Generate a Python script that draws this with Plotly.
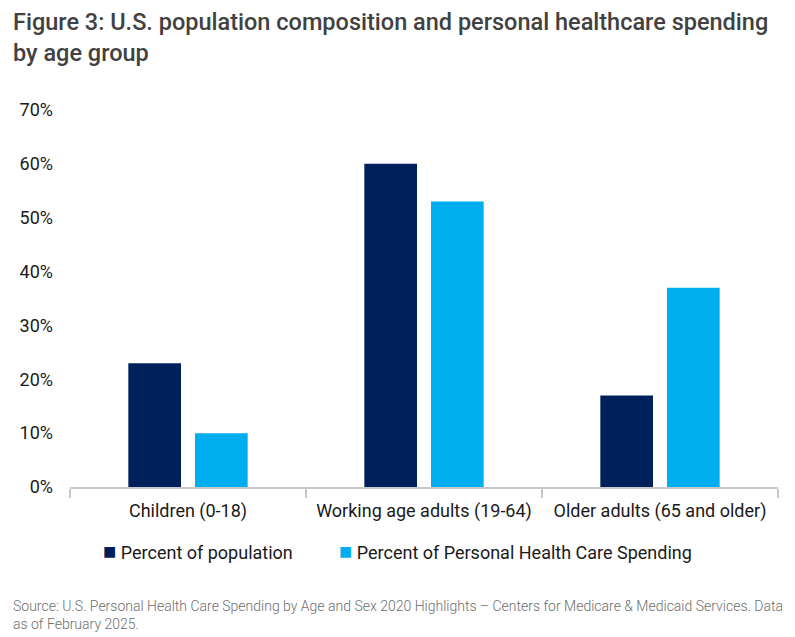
import plotly.graph_objects as go

categories = ["Children (0-18)", "Working age adults (19-64)", "Older adults (65 and older)"]
pct_population = [23, 60, 17]
pct_spending = [10, 53, 37]
series_names = ["Percent of population", "Percent of Personal Health Care Spending"]
y_ticks = [0, 10, 20, 30, 40, 50, 60, 70]

FONT = "Roboto"
NAVY = "#00205b"
SKY = "#00aeef"
TEXT = "#1a1a1a"

# the page body has an 8px margin, so the figure is sized to what is left of the window
W, H = 787, 629
PW, PH = 711, 377  # plot area in px

fig = go.Figure()
fig.add_trace(go.Bar(x=categories, y=pct_population, name=series_names[0],
                     marker=dict(color=NAVY, line=dict(width=0))))
fig.add_trace(go.Bar(x=categories, y=pct_spending, name=series_names[1],
                     marker=dict(color=SKY, line=dict(width=0))))

fig.update_layout(
    width=W, height=H,
    barmode="group", bargap=0.435, bargroupgap=0.21,
    plot_bgcolor="white", paper_bgcolor="white",
    font=dict(family=FONT, color=TEXT, size=18),
    margin=dict(l=59, r=17, t=102, b=150),
    xaxis=dict(showline=True, linecolor="#c8c8c8", linewidth=2, ticks="outside",
               tickson="boundaries", ticklen=9, tickwidth=1.5, tickcolor="#c8c8c8",
               tickfont=dict(size=18, color=TEXT), showgrid=False, ticklabelstandoff=6),
    yaxis=dict(range=[0, 70], tickvals=y_ticks, ticktext=[f"{v}%" for v in y_ticks],
               showgrid=False, zeroline=False, showline=False,
               tickfont=dict(size=18, color=TEXT), ticklabelstandoff=16),
    showlegend=False,
)

# custom legend: small square right next to the label
legend_x = [(90 - 59) / PW, (327 - 59) / PW]
for name, color, lx in zip(series_names, [NAVY, SKY], legend_x):
    fig.add_annotation(
        text=f"<span style='color:{color};font-size:22px'>■</span> {name}",
        xref="paper", yref="paper", x=lx, y=-0.172, xanchor="left", yanchor="middle",
        showarrow=False, font=dict(family=FONT, size=18, color=TEXT),
    )

fig.add_annotation(
    text="Figure 3: U.S. population composition and personal healthcare spending<br>by age group",
    xref="paper", yref="paper", x=-59 / PW, y=1 + 104 / PH, xanchor="left", yanchor="top",
    align="left", showarrow=False,
    font=dict(family=FONT, size=23.5, color="#414141", weight=500),
)
fig.add_annotation(
    text="Source: U.S. Personal Health Care Spending by Age and Sex 2020 Highlights – Centers for Medicare & Medicaid Services. Data<br>as of February 2025.",
    xref="paper", yref="paper", x=-59 / PW, y=-109 / PH, xanchor="left", yanchor="top",
    align="left", showarrow=False,
    font=dict(family=FONT, size=14, color="#6e6e6e", weight=300),
)

fig.write_html("out.html")
